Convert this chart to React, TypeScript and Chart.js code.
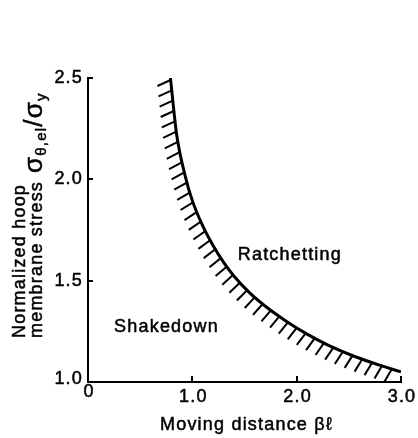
import { useEffect, useRef } from 'react';
import { Chart, registerables } from 'chart.js';

Chart.register(...registerables);

const FONT = "'Liberation Sans', Arial, Helvetica, sans-serif";

// Boundary between shakedown and ratchetting
const movingDistance = [0.79, 0.85, 0.93, 1.0, 1.1, 1.2, 1.3, 1.4, 1.55, 1.7, 1.9, 2.1, 2.3, 2.55, 2.8, 3.0];
const hoopStress = [2.5, 2.22, 2.02, 1.895, 1.77, 1.672, 1.59, 1.522, 1.44, 1.374, 1.3, 1.236, 1.182, 1.127, 1.082, 1.05];

const xTicks = [0, 1, 2, 3];
const xTickLabels = ['0', '1.0', '2.0', '3.0'];
const yTicks = [1.0, 1.5, 2.0, 2.5];
const yTickLabels = ['1.0', '1.5', '2.0', '2.5'];

const regionLabels = ['Ratchetting', 'Shakedown'];
const regionLabelX = [1.435, 0.25];
const regionLabelY = [1.6, 1.246];

const xTitle = 'Moving distance βℓ';
const yTitleLines = ['Normalized hoop', 'membrane stress'];
const yTitleSymbol = [
  { text: 'σ', sub: false },
  { text: 'θ,el', sub: true },
  { text: '/', sub: false },
  { text: 'σ', sub: false },
  { text: 'y', sub: true },
];

function drawText(ctx: CanvasRenderingContext2D, text: string, x: number, y: number) {
  ctx.fillText(text, x, y);
  ctx.strokeText(text, x, y);
}

export default function App() {
  const ref = useRef<HTMLCanvasElement>(null);

  useEffect(() => {
    document.body.style.margin = '0';
    const canvas = ref.current;
    if (!canvas) return;

    const hatchPlugin = {
      id: 'hatch',
      afterDatasetsDraw(chart: any) {
        const pts = chart.getDatasetMeta(0).data as any[];
        const samples: { x: number; y: number }[] = [];
        for (let i = 0; i < pts.length - 1; i++) {
          const a = pts[i];
          const b = pts[i + 1];
          const c1x = a.cp2x ?? a.x, c1y = a.cp2y ?? a.y;
          const c2x = b.cp1x ?? b.x, c2y = b.cp1y ?? b.y;
          for (let s = 0; s < 24; s++) {
            const t = s / 24;
            const u = 1 - t;
            samples.push({
              x: u * u * u * a.x + 3 * u * u * t * c1x + 3 * u * t * t * c2x + t * t * t * b.x,
              y: u * u * u * a.y + 3 * u * u * t * c1y + 3 * u * t * t * c2y + t * t * t * b.y,
            });
          }
        }
        const last = pts[pts.length - 1];
        samples.push({ x: last.x, y: last.y });
        const cum = [0];
        for (let i = 1; i < samples.length; i++) {
          cum.push(cum[i - 1] + Math.hypot(samples[i].x - samples[i - 1].x, samples[i].y - samples[i - 1].y));
        }
        const total = cum[cum.length - 1];
        const ctx = chart.ctx;
        ctx.save();
        ctx.strokeStyle = '#000';
        ctx.lineWidth = 2;
        ctx.lineCap = 'butt';
        const step = 10.4;
        const L = 14.5;
        let j = 0;
        for (let s = 2; s <= total - 1; s += step) {
          while (j < cum.length - 2 && cum[j + 1] < s) j++;
          const seg = cum[j + 1] - cum[j] || 1;
          const f = (s - cum[j]) / seg;
          const p0 = samples[j], p1 = samples[j + 1];
          const px = p0.x + (p1.x - p0.x) * f;
          const py = p0.y + (p1.y - p0.y) * f;
          let tx = p1.x - p0.x, ty = p1.y - p0.y;
          const tl = Math.hypot(tx, ty) || 1;
          tx /= tl; ty /= tl;
          let dx = -ty - 0.9 * 0.7071;
          let dy = tx + 0.9 * 0.7071;
          const dl = Math.hypot(dx, dy) || 1;
          dx /= dl; dy /= dl;
          ctx.beginPath();
          ctx.moveTo(px, py);
          ctx.lineTo(px + dx * L, py + dy * L);
          ctx.stroke();
        }
        ctx.restore();
      },
    };

    const decorPlugin = {
      id: 'decor',
      afterDraw(chart: any) {
        const ctx = chart.ctx as CanvasRenderingContext2D;
        const xs = chart.scales.x;
        const ys = chart.scales.y;
        const area = chart.chartArea;
        ctx.save();
        (ctx as any).letterSpacing = '1.2px';
        ctx.strokeStyle = '#000';
        ctx.fillStyle = '#000';
        ctx.lineWidth = 2;
        // inward ticks
        yTicks.forEach((v) => {
          if (v <= ys.min) return;
          const y = Math.round(ys.getPixelForValue(v));
          ctx.beginPath();
          ctx.moveTo(area.left, y);
          ctx.lineTo(area.left + 5, y);
          ctx.stroke();
        });
        xTicks.forEach((v) => {
          if (v <= xs.min) return;
          const x = Math.round(xs.getPixelForValue(v));
          ctx.beginPath();
          ctx.moveTo(x, area.bottom);
          ctx.lineTo(x, area.bottom - 6);
          ctx.stroke();
        });

        ctx.lineWidth = 0.5;
        ctx.lineJoin = 'round';
        ctx.font = `18px ${FONT}`;

        // tick labels
        ctx.textAlign = 'right';
        ctx.textBaseline = 'middle';
        yTicks.forEach((v, i) => {
          drawText(ctx, yTickLabels[i], area.left - 5, ys.getPixelForValue(v) - (i === 0 ? 3 : 0));
        });
        ctx.textAlign = 'center';
        xTicks.forEach((v, i) => {
          drawText(ctx, xTickLabels[i], xs.getPixelForValue(v) + 1, area.bottom + (i === 0 ? 10 : 15));
        });

        // region labels
        ctx.textAlign = 'left';
        ctx.textBaseline = 'alphabetic';
        regionLabels.forEach((t, i) => {
          drawText(ctx, t, xs.getPixelForValue(regionLabelX[i]), ys.getPixelForValue(regionLabelY[i]));
        });

        // x title
        drawText(ctx, xTitle, 160, 430);

        // y title
        ctx.save();
        ctx.translate(25, 338);
        ctx.rotate(-Math.PI / 2);
        drawText(ctx, yTitleLines[0], 0, 0);
        ctx.restore();
        ctx.save();
        ctx.translate(42, 338);
        ctx.rotate(-Math.PI / 2);
        drawText(ctx, yTitleLines[1], 0, 0);
        let pos = ctx.measureText(yTitleLines[1]).width + 8;
        yTitleSymbol.forEach((part) => {
          ctx.font = part.sub ? `15px ${FONT}` : `26px ${FONT}`;
          drawText(ctx, part.text, pos, part.sub ? 4 : 0);
          pos += ctx.measureText(part.text).width;
        });
        ctx.restore();
        ctx.restore();
      },
    };

    const chart = new Chart(canvas, {
      type: 'line',
      data: {
        datasets: [
          {
            data: movingDistance.map((x, i) => ({ x, y: hoopStress[i] })),
            borderColor: '#000',
            borderWidth: 3,
            pointRadius: 0,
            cubicInterpolationMode: 'monotone',
            fill: false,
          },
        ],
      },
      options: {
        animation: false,
        responsive: false,
        devicePixelRatio: 1,
        layout: { padding: { left: 0, top: 78, right: 17, bottom: 0 } },
        plugins: { legend: { display: false }, tooltip: { enabled: false } },
        scales: {
          x: {
            type: 'linear',
            min: 0,
            max: 3,
            grid: { display: false, drawTicks: false },
            border: { display: true, color: '#000', width: 2 },
            afterBuildTicks: (scale: any) => {
              scale.ticks = xTicks.map((v) => ({ value: v }));
            },
            afterFit: (scale: any) => {
              scale.height = 56;
            },
            ticks: { display: false },
          },
          y: {
            type: 'linear',
            min: 1,
            max: 2.5,
            grid: { display: false, drawTicks: false },
            border: { display: true, color: '#000', width: 2 },
            afterBuildTicks: (scale: any) => {
              scale.ticks = yTicks.map((v) => ({ value: v }));
            },
            afterFit: (scale: any) => {
              scale.width = 88;
            },
            ticks: { display: false },
          },
        },
      },
      plugins: [hatchPlugin, decorPlugin],
    } as any);

    return () => chart.destroy();
  }, []);

  return (
    <div style={{ width: 418, height: 438 }}>
      <canvas ref={ref} width={418} height={438} style={{ display: 'block' }} />
    </div>
  );
}
